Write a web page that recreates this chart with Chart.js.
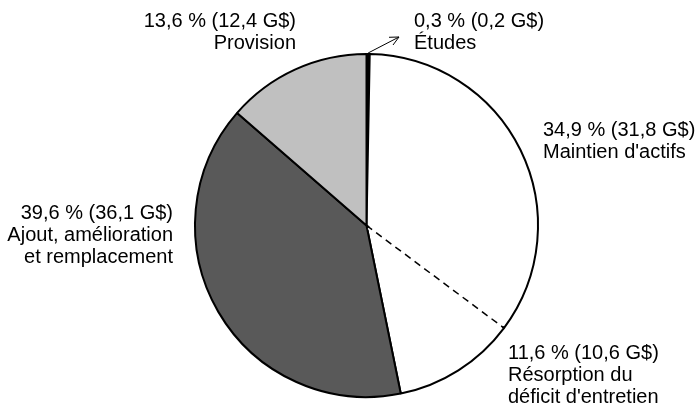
<!DOCTYPE html>
<html>
<head>
<meta charset="utf-8">
<script src="https://cdn.jsdelivr.net/npm/chart.js@4"></script>
<style>
  html, body { margin: 0; padding: 0; background: #ffffff; }
  #wrap { width: 699px; height: 407px; }
</style>
</head>
<body>
<div id="wrap"><canvas id="c" width="699" height="407"></canvas></div>
<script>
// Répartition des investissements (en % et en G$)
const categories = [
  ['Études'],
  ["Maintien d'actifs"],
  ['Résorption du', "déficit d'entretien"],
  ['Ajout, amélioration', 'et remplacement'],
  ['Provision']
];
const sharePct = [0.3, 34.9, 11.6, 39.6, 13.6];
const amountGD = [0.2, 31.8, 10.6, 36.1, 12.4];

const fr = v => v.toFixed(1).replace('.', ',');
const headline = i => fr(sharePct[i]) + ' % (' + fr(amountGD[i]) + ' G$)';

// Dashed separator between "Maintien d'actifs" and "Résorption du déficit"
const dashedSplit = {
  id: 'dashedSplit',
  afterDatasetsDraw(chart) {
    const arc = chart.getDatasetMeta(0).data[1];
    const p = arc.getProps(['x', 'y', 'endAngle', 'outerRadius'], true);
    const c = Math.cos(p.endAngle), s = Math.sin(p.endAngle);
    const ctx = chart.ctx;
    ctx.save();
    ctx.strokeStyle = '#ffffff';
    ctx.lineWidth = 4;
    ctx.beginPath();
    ctx.moveTo(p.x + c * 3, p.y + s * 3);
    ctx.lineTo(p.x + c * (p.outerRadius - 2), p.y + s * (p.outerRadius - 2));
    ctx.stroke();
    ctx.strokeStyle = '#000000';
    ctx.lineWidth = 1.5;
    ctx.setLineDash([7, 5]);
    ctx.beginPath();
    ctx.moveTo(p.x, p.y);
    ctx.lineTo(p.x + c * p.outerRadius, p.y + s * p.outerRadius);
    ctx.stroke();
    ctx.restore();
  }
};

// Slice captions and the pointer toward the thin "Études" slice
const captions = {
  id: 'captions',
  afterDraw(chart, args, opts) {
    const ctx = chart.ctx;
    ctx.save();
    ctx.fillStyle = '#000000';
    ctx.font = opts.font;
    ctx.textBaseline = 'alphabetic';
    opts.anchors.forEach((a, i) => {
      ctx.textAlign = a.align;
      const lines = [headline(i)].concat(categories[i]);
      lines.forEach((t, k) => ctx.fillText(t, a.x, a.y + k * opts.lineHeight));
    });

    // arrow from the Études slice edge to its caption
    const arc = chart.getDatasetMeta(0).data[0];
    const p = arc.getProps(['x', 'y', 'startAngle', 'endAngle', 'outerRadius'], true);
    const mid = (p.startAngle + p.endAngle) / 2;
    const x0 = p.x + Math.cos(mid) * (p.outerRadius + 1);
    const y0 = p.y + Math.sin(mid) * (p.outerRadius + 1);
    const tip = opts.arrowTip;
    const ang = Math.atan2(tip.y - y0, tip.x - x0);
    ctx.strokeStyle = '#000000';
    ctx.lineWidth = 1;
    ctx.beginPath();
    ctx.moveTo(x0, y0);
    ctx.lineTo(tip.x, tip.y);
    ctx.moveTo(tip.x - 10 * Math.cos(ang - 0.45), tip.y - 10 * Math.sin(ang - 0.45));
    ctx.lineTo(tip.x, tip.y);
    ctx.lineTo(tip.x - 10 * Math.cos(ang + 0.45), tip.y - 10 * Math.sin(ang + 0.45));
    ctx.stroke();
    ctx.restore();
  }
};

new Chart(document.getElementById('c'), {
  type: 'pie',
  data: {
    labels: categories.map(l => l.join(' ')),
    datasets: [{
      data: sharePct,
      backgroundColor: ['#000000', '#ffffff', '#ffffff', '#595959', '#c0c0c0'],
      borderColor: '#000000',
      borderWidth: 2,
      hoverOffset: 0
    }]
  },
  options: {
    responsive: false,
    animation: false,
    devicePixelRatio: 1,
    layout: { padding: { top: 53, bottom: 9, left: 194, right: 160 } },
    plugins: {
      legend: { display: false },
      tooltip: { enabled: false },
      captions: {
        font: '20px "Liberation Sans", Arial, sans-serif',
        lineHeight: 22,
        arrowTip: { x: 399, y: 37 },
        anchors: [
          { x: 414, y: 27, align: 'left' },
          { x: 543, y: 136, align: 'left' },
          { x: 508, y: 359, align: 'left' },
          { x: 173, y: 219, align: 'right' },
          { x: 296, y: 27, align: 'right' }
        ]
      }
    }
  },
  plugins: [dashedSplit, captions]
});
</script>
</body>
</html>
